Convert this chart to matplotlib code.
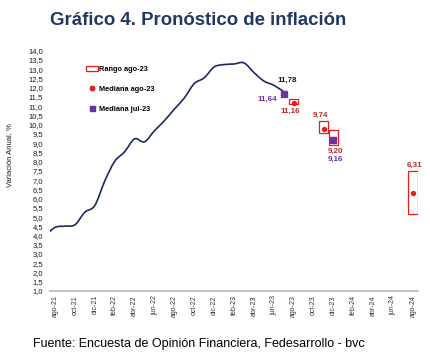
import matplotlib
matplotlib.use("Agg")
import matplotlib.pyplot as plt
from matplotlib.path import Path
from matplotlib.patches import PathPatch, Rectangle
from matplotlib.lines import Line2D
import numpy as np

plt.rcParams['font.family'] = ['Liberation Sans', 'DejaVu Sans']

# ---------------- data ----------------
# observed annual inflation, monthly from jul-21 (index -1) to jul-23 (index 23); ago-21 = 0
obs_start = -1
inflacion = [3.97, 4.44, 4.51, 4.58, 5.26, 5.62, 6.94, 8.01, 8.53, 9.23, 9.07, 9.67,
             10.21, 10.84, 11.44, 12.22, 12.53, 13.12, 13.25, 13.28, 13.34, 12.82,
             12.36, 12.13, 11.78]

# forecasts (month index, ago-21 = 0)
fc_mes = [24, 27, 28, 36]                 # ago-23, nov-23, dic-23, ago-24
rango_min = [11.12, 9.53, 8.90, 5.19]
rango_max = [11.40, 10.19, 9.72, 7.48]
mediana_ago = [11.16, 9.74, 9.20, 6.31]

jul_mes = [23, 28]                         # jul-23, dic-23
mediana_jul = [11.64, 9.16]

tick_labels = ['ago-21', 'oct-21', 'dic-21', 'feb-22', 'abr-22', 'jun-22', 'ago-22',
               'oct-22', 'dic-22', 'feb-23', 'abr-23', 'jun-23', 'ago-23', 'oct-23',
               'dic-23', 'feb-24', 'abr-24', 'jun-24', 'ago-24']

# ---------------- style ----------------
NAVY = '#1b2a5e'
RED = '#e41c1c'
DARKRED = '#c0282b'
PURPLE = '#7030a0'
TITLE = '#1f3864'

fig = plt.figure(figsize=(4.31, 3.61), dpi=100)
ax = fig.add_axes([50/431, 1 - 291/361, 368/431, 240.3/361])

# smooth line (Catmull-Rom -> cubic Bezier through the data points)
xs = np.arange(obs_start, obs_start + len(inflacion), dtype=float)
ys = np.array(inflacion, dtype=float)
pts = np.column_stack([xs, ys])
verts = [tuple(pts[0])]
codes = [Path.MOVETO]
n = len(pts)
for i in range(n - 1):
    p0 = pts[i - 1] if i > 0 else pts[i]
    p1 = pts[i]
    p2 = pts[i + 1]
    p3 = pts[i + 2] if i + 2 < n else pts[i + 1]
    c1 = p1 + (p2 - p0) / 6.0
    c2 = p2 - (p3 - p1) / 6.0
    verts += [tuple(c1), tuple(c2), tuple(p2)]
    codes += [Path.CURVE4, Path.CURVE4, Path.CURVE4]
ax.add_patch(PathPatch(Path(verts, codes), facecolor='none', edgecolor=NAVY,
                       lw=1.2, zorder=3))

# range boxes
w = 0.95
for m, lo, hi in zip(fc_mes, rango_min, rango_max):
    ax.add_patch(Rectangle((m - w / 2, lo), w, hi - lo, facecolor='none',
                           edgecolor=RED, lw=0.9, zorder=4))
ax.plot(fc_mes, mediana_ago, 'o', color=RED, ms=2.8, zorder=5, ls='none')
ax.plot(jul_mes, mediana_jul, 's', color=PURPLE, ms=4.6, zorder=6, ls='none')

# value labels
def lab(x, y, s, dx, dy, color, ha='center'):
    ax.annotate(s, (x, y), xytext=(dx, dy), textcoords='offset points',
                ha=ha, va='center', fontsize=5.8, fontweight='bold', color=color,
                zorder=7)

def fmt(v):
    return f"{v:.2f}".replace('.', ',')

lab(xs[-1], ys[-1], fmt(ys[-1]), 2.4, 8.4, '#1a1a1a')
lab(jul_mes[0], mediana_jul[0], fmt(mediana_jul[0]), -4.6, -3.6, PURPLE, ha='right')
lab(fc_mes[0], mediana_ago[0], fmt(mediana_ago[0]), -2.6, -5.6, DARKRED)
lab(fc_mes[1], mediana_ago[1], fmt(mediana_ago[1]), -2.1, 10.1, DARKRED)
lab(fc_mes[2], mediana_ago[2], fmt(mediana_ago[2]), 1.6, -8.6, DARKRED)
lab(jul_mes[1], mediana_jul[1], fmt(mediana_jul[1]), 1.6, -13.6, PURPLE)
lab(fc_mes[3], mediana_ago[3], fmt(mediana_ago[3]), 1.2, 19.7, DARKRED)

# axes
ax.set_xlim(-0.5, 36.5)
ax.set_ylim(1.0, 14.0)
yt = np.arange(1.0, 14.01, 0.5)
ax.set_yticks(yt)
ax.set_yticklabels([f"{v:.1f}".replace('.', ',') for v in yt], fontsize=5.5,
                   color='#1a1a1a')
ax.set_xticks(np.arange(0, 37, 2))
ax.set_xticklabels(tick_labels, rotation=90, fontsize=5.0, color='#333333')
ax.tick_params(axis='y', length=0, pad=5)
ax.tick_params(axis='x', length=0, pad=3)
for s in ['top', 'right', 'left']:
    ax.spines[s].set_visible(False)
ax.spines['bottom'].set_color('#bfbfbf')
ax.spines['bottom'].set_linewidth(1.3)

# legend
handles = [Rectangle((0, 0), 1, 1, facecolor='none', edgecolor=RED, lw=0.9),
           Line2D([], [], marker='o', color=RED, ls='none', ms=3.2),
           Line2D([], [], marker='s', color=PURPLE, ls='none', ms=3.6)]
leg = ax.legend(handles, ['Rango ago-23', 'Mediana ago-23', 'Mediana jul-23'],
                loc='upper left', bbox_to_anchor=((86 - 50) / 368, (291 - 66) / 240.3),
                frameon=False, prop={'size': 5.3, 'weight': 'bold'},
                handlelength=1.65, handleheight=0.55, handletextpad=0.15,
                labelspacing=1.75, borderaxespad=0, borderpad=0)

# titles
fig.text(50/431, 1 - 25/361, 'Gráfico 4. Pronóstico de inflación', fontsize=13.4,
         fontweight='bold', color=TITLE, ha='left', va='baseline')
fig.text(10/431, 1 - 155.5/361, 'Variación Anual, %', rotation=90, fontsize=5.5,
         ha='center', va='center', color='#1a1a1a')
fig.text(33/431, 1 - 347.5/361, 'Fuente: Encuesta de Opinión Financiera, Fedesarrollo - bvc',
         fontsize=9, ha='left', va='baseline', color='#000000')

fig.savefig('out.png', dpi=100)
